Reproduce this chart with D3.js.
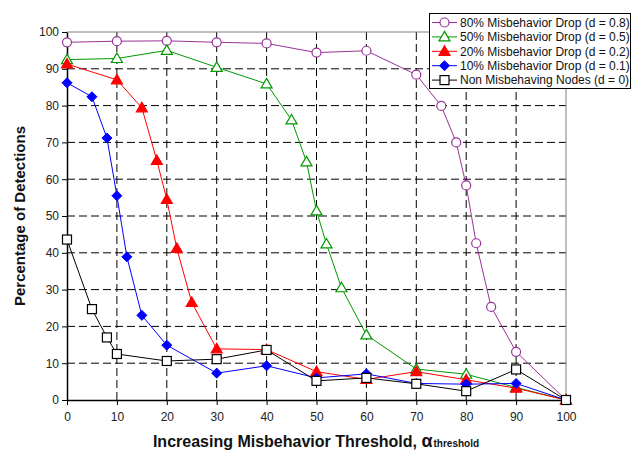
<!DOCTYPE html>
<html lang="en">
<head>
<meta charset="UTF-8">
<title>Misbehavior Detection</title>
<style>
  body { margin: 0; background: #fff; }
  text { font-family: Arial, "Liberation Sans", sans-serif; }
</style>
</head>
<body>
<script src="https://d3js.org/d3.v7.min.js"></script>
<script>
// data
var xTicks = [0, 10, 20, 30, 40, 50, 60, 70, 80, 90, 100];
var yTicks = [0, 10, 20, 30, 40, 50, 60, 70, 80, 90, 100];

var x80 = [0, 10, 20, 30, 40, 50, 60, 70, 75, 78, 80, 82, 85, 90, 100];
var y80 = [97.2, 97.5, 97.6, 97.2, 96.9, 94.4, 94.9, 88.4, 79.9, 70, 58.3, 42.6, 25.3, 13.1, 0];
var x50 = [0, 10, 20, 30, 40, 45, 48, 50, 52, 55, 60, 70, 80, 90, 100];
var y50 = [92.5, 92.8, 95, 90.4, 85.9, 76.1, 64.7, 51.4, 42.4, 30.5, 17.7, 8.4, 7.0, 3.4, 0];
var x20 = [0, 10, 15, 18, 20, 22, 25, 30, 40, 50, 60, 70, 80, 90, 100];
var y20 = [91.3, 87, 79.4, 65.1, 54.5, 41.2, 26.5, 13.9, 13.7, 7.7, 5.6, 7.7, 5.5, 3.2, 0];
var x10 = [0, 5, 8, 10, 12, 15, 20, 30, 40, 50, 60, 70, 80, 90, 100];
var y10 = [86.2, 82.4, 71.2, 55.5, 38.9, 23, 14.9, 7.3, 9.3, 6.0, 7.1, 4.5, 4.3, 4.5, 0];
var x0 = [0, 5, 8, 10, 20, 30, 40, 50, 60, 70, 80, 90, 100];
var y0 = [43.6, 24.7, 17, 12.5, 10.6, 11.1, 13.6, 5.2, 6.0, 4.4, 2.4, 8.3, 0];

var names = ["80% Misbehavior Drop (d = 0.8)", "50% Misbehavior Drop (d = 0.5)",
             "20% Misbehavior Drop (d = 0.2)", "10% Misbehavior Drop (d = 0.1)",
             "Non Misbehaving Nodes (d = 0)"];

var series = [
  {name: names[0], xs: x80, ys: y80, color: "#993399", shape: "circle"},
  {name: names[1], xs: x50, ys: y50, color: "#009900", shape: "triOpen"},
  {name: names[2], xs: x20, ys: y20, color: "#ff0000", shape: "triFill"},
  {name: names[3], xs: x10, ys: y10, color: "#0000ff", shape: "diamond"},
  {name: names[4], xs: x0, ys: y0, color: "#000000", shape: "square"}
];

const W = 638, H = 453;
const mLeft = 67, mRight = 566, mTop = 32, mBottom = 400;

const svg = d3.select("body").append("svg")
  .attr("width", W)
  .attr("height", H);

svg.append("rect").attr("width", W).attr("height", H).attr("fill", "#fff");

var x = d3.scaleLinear().domain([0, 100]).range([mLeft, mRight]);
var y = d3.scaleLinear().domain([0, 100]).range([mBottom, mTop]);

// dashed grid
svg.append("g").selectAll("line")
  .data(xTicks.slice(1, -1)).enter().append("line")
  .attr("x1", d => x(d)).attr("x2", d => x(d))
  .attr("y1", mTop).attr("y2", mBottom)
  .attr("stroke", "#000").attr("stroke-width", 1)
  .attr("stroke-dasharray", "8,4");
svg.append("g").selectAll("line")
  .data(yTicks.slice(1, -1)).enter().append("line")
  .attr("x1", mLeft).attr("x2", mRight)
  .attr("y1", d => y(d)).attr("y2", d => y(d))
  .attr("stroke", "#000").attr("stroke-width", 1)
  .attr("stroke-dasharray", "8,4");

// top and right frame
svg.append("path")
  .attr("d", "M" + mLeft + "," + mTop + "H" + mRight + "V" + mBottom)
  .attr("fill", "none").attr("stroke", "#808080").attr("stroke-width", 1);

// axes
var xAxis = svg.append("g")
  .attr("transform", "translate(0," + mBottom + ")")
  .call(d3.axisBottom(x).tickValues(xTicks).tickSize(5).tickSizeOuter(0));
var yAxis = svg.append("g")
  .attr("transform", "translate(" + mLeft + ",0)")
  .call(d3.axisLeft(y).tickValues(yTicks).tickSize(5).tickSizeOuter(0));
[xAxis, yAxis].forEach(function(a) {
  a.select(".domain").attr("stroke", "#000").attr("stroke-width", 1.5);
  a.selectAll(".tick line").attr("stroke", "#000");
  a.selectAll(".tick text").attr("font-size", "12px").attr("fill", "#222")
    .attr("font-family", "Arial, 'Liberation Sans', sans-serif");
});
xAxis.selectAll(".tick text").attr("dy", "1.1em");
yAxis.selectAll(".tick text").attr("x", -8);

// markers
function marker(g, shape, color) {
  if (shape === "circle") {
    g.append("circle").attr("r", 4.5).attr("fill", "#fff").attr("stroke", color).attr("stroke-width", 1.2);
  } else if (shape === "triOpen" || shape === "triFill") {
    g.append("path").attr("d", "M0,-5.5L5.5,4L-5.5,4Z")
      .attr("fill", shape === "triFill" ? color : "#fff")
      .attr("stroke", color).attr("stroke-width", 1.2);
  } else if (shape === "diamond") {
    g.append("path").attr("d", "M0,-5L5,0L0,5L-5,0Z").attr("fill", color).attr("stroke", color);
  } else {
    g.append("rect").attr("x", -4.5).attr("y", -4.5).attr("width", 9).attr("height", 9)
      .attr("fill", "#fff").attr("stroke", color).attr("stroke-width", 1.2);
  }
}

var line = d3.line().x(d => x(d[0])).y(d => y(d[1]));

series.forEach(function(s) {
  var pts = s.xs.map((v, i) => [v, s.ys[i]]);
  var g = svg.append("g");
  g.append("path").datum(pts).attr("d", line)
    .attr("fill", "none").attr("stroke", s.color).attr("stroke-width", 1);
  pts.forEach(function(p) {
    marker(g.append("g").attr("transform", "translate(" + x(p[0]) + "," + y(p[1]) + ")"), s.shape, s.color);
  });
});

// legend
var lg = svg.append("g");
lg.append("rect").attr("x", 429.5).attr("y", 13.5).attr("width", 201).attr("height", 75)
  .attr("fill", "#fff").attr("stroke", "#000").attr("stroke-width", 1);
series.forEach(function(s, i) {
  var yy = 22.5 + i * 14.4;
  lg.append("line").attr("x1", 432).attr("x2", 457).attr("y1", yy).attr("y2", yy)
    .attr("stroke", s.color).attr("stroke-width", 1);
  marker(lg.append("g").attr("transform", "translate(444.5," + yy + ")"), s.shape, s.color);
  lg.append("text").attr("x", 460).attr("y", yy).attr("dy", "0.36em")
    .attr("font-size", "12px").attr("fill", "#111").text(s.name);
});

// axis titles
var xt = svg.append("text").attr("x", 316).attr("y", 447)
  .attr("text-anchor", "middle").attr("font-weight", "bold").attr("fill", "#111");
xt.append("tspan").attr("font-size", "16px").text("Increasing Misbehavior Threshold, ");
xt.append("tspan").attr("font-size", "18px").text("\u03b1");
xt.append("tspan").attr("font-size", "10px").attr("dx", "1").text("threshold");

svg.append("text")
  .attr("transform", "translate(25," + ((mTop + mBottom) / 2) + ") rotate(-90)")
  .attr("text-anchor", "middle").attr("font-weight", "bold").attr("font-size", "15px")
  .attr("fill", "#111").text("Percentage of Detections");
</script>
</body>
</html>
